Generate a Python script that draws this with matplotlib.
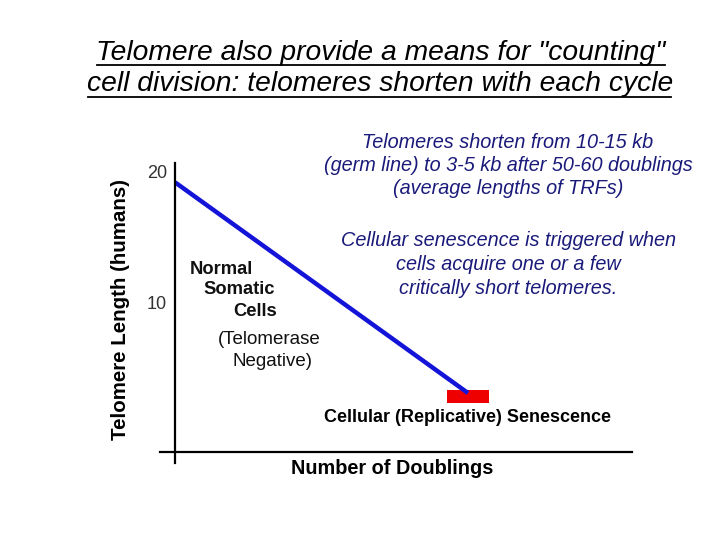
import matplotlib
matplotlib.use("Agg")
import matplotlib.pyplot as plt

plt.rcParams['font.family'] = ['Liberation Sans', 'DejaVu Sans']

# Data
doublings = [0, 60]
telomere_length = [19.2, 3.0]
senescence_x = 60
senescence_bottom = 2.2
senescence_height = 1.0
senescence_width = 8.8
ytick_values = [10, 20]
ytick_labels = ["10", "20"]

fig = plt.figure(figsize=(7.2, 5.4), dpi=100)
ax = fig.add_axes([160/720, 1-463/540, (632-160)/720, (463-163)/540])
ax.set_xlim(-3.1, 93.6)
ax.set_ylim(-2.38, 20.69)
ax.spines['top'].set_visible(False)
ax.spines['right'].set_visible(False)
ax.spines['left'].set_position(('data', 0))
ax.spines['bottom'].set_position(('data', -1.5))
ax.spines['left'].set_linewidth(1.6)
ax.spines['bottom'].set_linewidth(1.6)

ax.plot(doublings, telomere_length, color='#1414d8', lw=3.2, solid_capstyle='butt')
ax.bar(senescence_x, senescence_height, bottom=senescence_bottom, width=senescence_width,
       color='#ee0000')

ax.set_xticks([])
ax.set_yticks(ytick_values)
ax.set_yticklabels(ytick_labels, fontsize=13, color='#333333')
ax.tick_params(axis='y', length=0, pad=6)

fig.text(121/720, 1-309/540, "Telomere Length (humans)", fontsize=14.8, fontweight='bold',
         rotation=90, ha='center', va='center')

fig.text(392/720, 1-468/540, "Number of Doublings", fontsize=14.3, fontweight='bold',
         ha='center', va='center')

# Title
fig.text(381/720, 1-60/540, 'Telomere also provide a means for "counting"', fontsize=20.3,
         style='italic', ha='center', va='baseline')
fig.text(380/720, 1-91/540, 'cell division: telomeres shorten with each cycle', fontsize=20.3,
         style='italic', ha='center', va='baseline')
# underlines
fig.add_artist(plt.Line2D([97/720, 665/720], [1-64.5/540, 1-64.5/540], color='black', lw=1.3))
fig.add_artist(plt.Line2D([88/720, 671/720], [1-97/540, 1-97/540], color='black', lw=1.3))

navy = '#1a1a7a'
for txt, y in [("Telomeres shorten from 10-15 kb", 143),
               ("(germ line) to 3-5 kb after 50-60 doublings", 166),
               ("(average lengths of TRFs)", 189),
               ("Cellular senescence is triggered when", 240),
               ("cells acquire one or a few", 264),
               ("critically short telomeres.", 288)]:
    fig.text(508/720, 1-y/540, txt, fontsize=14.3, style='italic', color=navy,
             ha='center', va='center')

for txt, x, y in [("Normal", 221, 269), ("Somatic", 239, 290), ("Cells", 255, 311)]:
    fig.text(x/720, 1-y/540, txt, fontsize=13.2, fontweight='bold', color='#111111',
             ha='center', va='center')
for txt, x, y in [("(Telomerase", 269, 340), ("Negative)", 273, 362)]:
    fig.text(x/720, 1-y/540, txt, fontsize=13.5, color='#111111', ha='center', va='center')

fig.text(468/720, 1-417/540, "Cellular (Replicative) Senescence", fontsize=13, fontweight='bold',
         ha='center', va='center')

fig.savefig("out.png", dpi=100)
